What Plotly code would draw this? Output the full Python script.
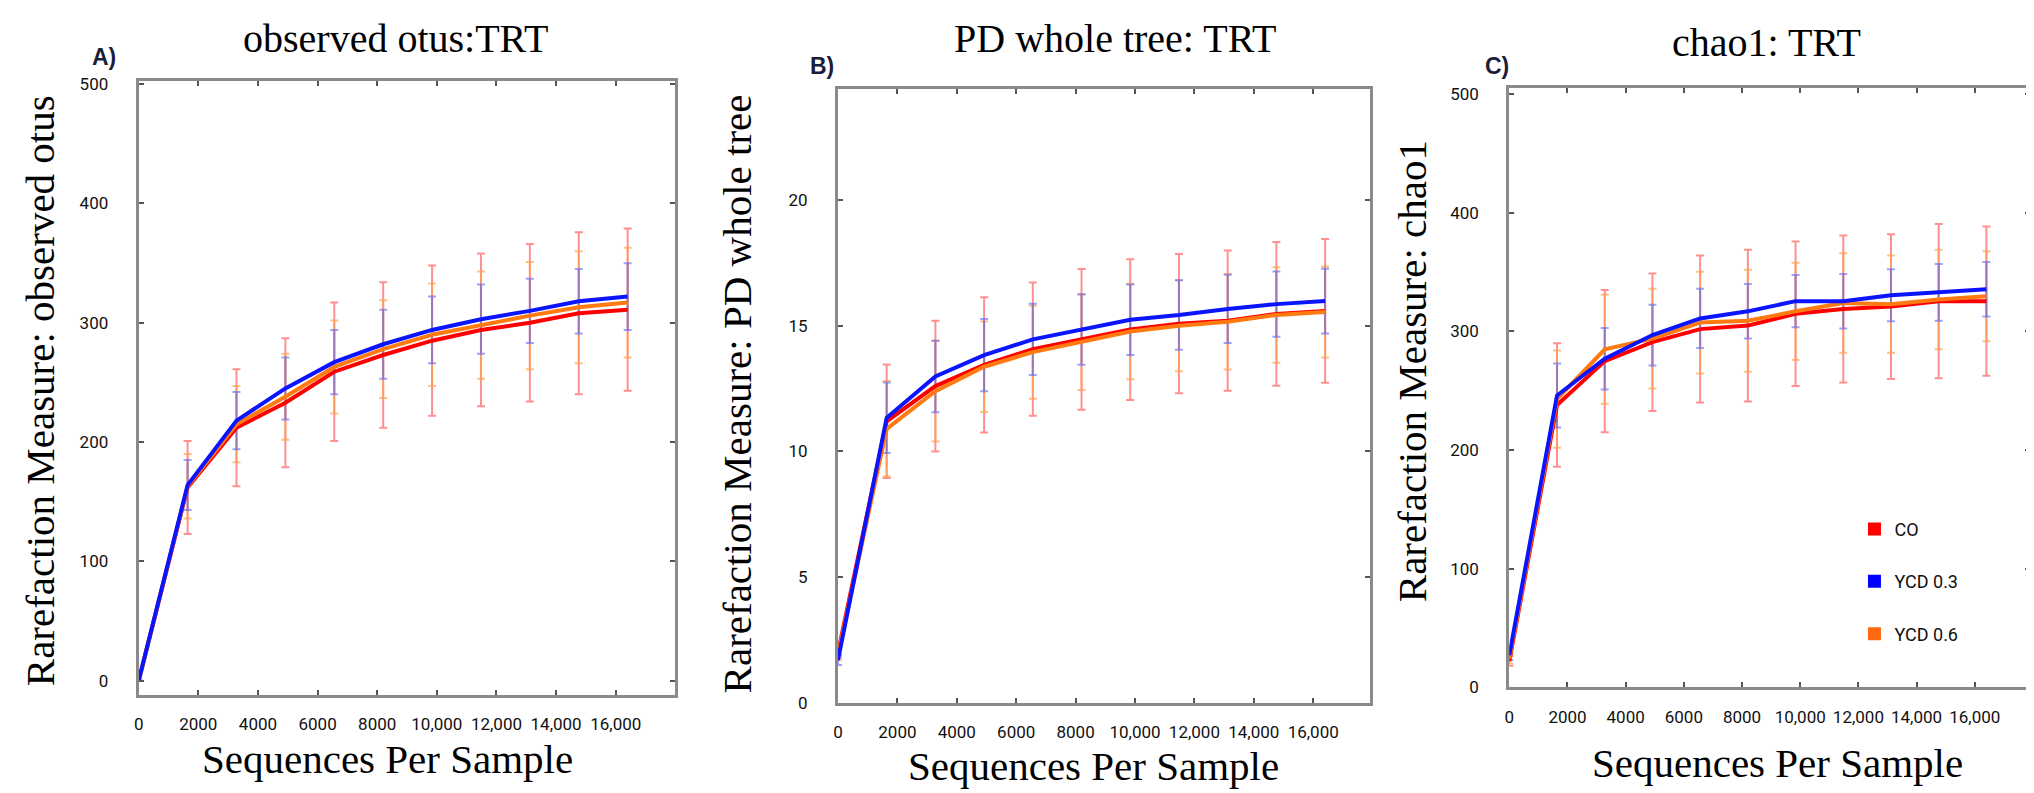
import plotly.graph_objects as go

W, H = 2034, 793

# ---------------- data ----------------
seqs = [0, 1640, 3280, 4920, 6560, 8200, 9840, 11480, 13120, 14760, 16400]
xtick_vals = [0, 2000, 4000, 6000, 8000, 10000, 12000, 14000, 16000]
xtick_text = ["0", "2000", "4000", "6000", "8000", "10,000", "12,000", "14,000", "16,000"]
groups = ["CO", "YCD 0.3", "YCD 0.6"]

# Panel A: observed otus
otus_co = [0, 162, 212, 233, 259, 273, 285, 294, 300, 308, 311]
otus_y03 = [0, 164, 218, 245, 267, 282, 294, 303, 310, 318, 322]
otus_y06 = [0, 163, 215, 238, 263, 278, 290, 298, 306, 313, 317]
otus_co_err = [0, 39, 49, 54, 58, 61, 63, 64, 66, 68, 68]
otus_y03_err = [0, 21, 24, 26, 27, 29, 28, 29, 27, 27, 28]
otus_y06_err = [0, 27, 32, 36, 39, 41, 43, 45, 45, 47, 46]

# Panel B: PD whole tree
pd_co = [2.0, 11.2, 12.6, 13.44, 14.07, 14.46, 14.85, 15.08, 15.2, 15.47, 15.59]
pd_y03 = [1.7, 11.34, 12.98, 13.83, 14.46, 14.85, 15.24, 15.43, 15.67, 15.86, 15.98]
pd_y06 = [1.9, 10.9, 12.4, 13.37, 13.95, 14.34, 14.77, 15.0, 15.16, 15.43, 15.55]
pd_co_err = [0.2, 2.26, 2.6, 2.69, 2.65, 2.8, 2.8, 2.77, 2.79, 2.86, 2.86]
pd_y03_err = [0.2, 1.4, 1.42, 1.44, 1.42, 1.4, 1.4, 1.38, 1.36, 1.3, 1.29]
pd_y06_err = [0.2, 1.9, 2.0, 1.8, 1.85, 1.9, 1.9, 1.81, 1.9, 1.9, 1.81]

# Panel C: chao1
chao_co = [22, 238, 275, 291, 302, 305, 315, 319, 321, 325.6, 325.6]
chao_y03 = [27, 246, 277, 297, 311, 317, 325.6, 325.6, 330.6, 333, 335.6]
chao_y06 = [24, 243, 285, 294, 307.5, 309, 317, 324, 323, 327, 329.7]
chao_co_err = [4, 52, 60, 58, 62, 64, 61, 62, 61, 65, 63]
chao_y03_err = [4, 27, 26, 25.6, 25, 23, 22, 23, 22, 24, 23]
chao_y06_err = [4, 41, 46, 42, 43, 43, 41, 42, 41, 42, 38]

line_colors = {"CO": "#ff0000", "YCD 0.3": "#0a14ff", "YCD 0.6": "#ff7a10"}
err_colors = {"CO": "rgba(255,70,70,0.6)", "YCD 0.3": "rgba(70,90,255,0.55)",
              "YCD 0.6": "rgba(255,160,70,0.65)"}

SERIF = "Liberation Serif, Times New Roman, serif"
TICKF = "Roboto, Liberation Sans, sans-serif"

# pixel layout of each panel: (left, right, top, bottom)
panels = [
    dict(box=(126, 664, 68, 695), yrange=[-12, 503], yticks=[0, 100, 200, 300, 400, 500],
         xrange=[0, 18000],
         data=[(otus_co, otus_co_err), (otus_y03, otus_y03_err), (otus_y06, otus_y06_err)],
         title="observed otus:TRT", tpos=(383, 25), label="A)", lpos=(91, 44),
         ytitle="Rarefaction Measure: observed otus", ytpos=(27, 384),
         xtpos=(375, 760)),
    dict(box=(827, 1360, 77, 703), yrange=[0, 24.4], yticks=[0, 5, 10, 15, 20],
         xrange=[0, 17900],
         data=[(pd_co, pd_co_err), (pd_y03, pd_y03_err), (pd_y06, pd_y06_err)],
         title="PD whole tree: TRT", tpos=(1105, 25), label="B)", lpos=(811, 53),
         ytitle="Rarefaction Measure: PD whole tree", ytpos=(726, 388),
         xtpos=(1083, 767)),
    dict(box=(1500, 2022, 76, 687), yrange=[0, 505], yticks=[0, 100, 200, 300, 400, 500],
         xrange=[0, 17900],
         data=[(chao_co, chao_co_err), (chao_y03, chao_y03_err), (chao_y06, chao_y06_err)],
         title="chao1: TRT", tpos=(1758, 29), label="C)", lpos=(1488, 53),
         ytitle="Rarefaction Measure: chao1", ytpos=(1402, 365),
         xtpos=(1769, 764)),
]

fig = go.Figure()
annotations = []
draw_order = [0, 2, 1]  # CO, YCD 0.6, YCD 0.3 (blue on top)

for i, p in enumerate(panels):
    n = "" if i == 0 else str(i + 1)
    xa, ya = "x" + n, "y" + n
    l, r, t, b = p["box"]
    fig.layout["xaxis" + n] = dict(
        domain=[l / W, r / W], range=p["xrange"], anchor=ya,
        tickvals=xtick_vals, ticktext=xtick_text, ticks="inside", ticklen=5,
        tickcolor="#555", tickwidth=2, showline=True, linecolor="#8a8a8a",
        linewidth=3, mirror="ticks", showgrid=False, zeroline=False,
        tickfont=dict(family=TICKF, size=17, color="#111"), tickangle=0,
        ticklabelstandoff=12,
    )
    fig.layout["yaxis" + n] = dict(
        domain=[1 - b / H, 1 - t / H], range=p["yrange"], anchor=xa,
        tickvals=p["yticks"], ticks="inside", ticklen=5, tickcolor="#555",
        tickwidth=2, showline=True, linecolor="#8a8a8a", linewidth=3,
        mirror="ticks", showgrid=False, zeroline=False,
        tickfont=dict(family=TICKF, size=17, color="#111"),
        ticklabelstandoff=24,
    )
    # error bars first
    for k in draw_order:
        g = groups[k]
        vals, errs = p["data"][k]
        fig.add_trace(go.Scatter(
            x=seqs, y=vals, xaxis=xa, yaxis=ya, mode="markers",
            marker=dict(size=1, opacity=0), showlegend=False, hoverinfo="skip",
            error_y=dict(type="data", array=errs, visible=True,
                         color=err_colors[g], thickness=2, width=4),
        ))
    for k in draw_order:
        g = groups[k]
        vals, errs = p["data"][k]
        fig.add_trace(go.Scatter(
            x=seqs, y=vals, xaxis=xa, yaxis=ya, mode="lines", name=g,
            line=dict(color=line_colors[g], width=4), showlegend=False,
        ))
    annotations.append(dict(text=p["title"], x=p["tpos"][0] / W, y=1 - p["tpos"][1] / H,
                            xref="paper", yref="paper", showarrow=False,
                            xanchor="center", yanchor="middle",
                            font=dict(family=SERIF, size=40, color="#000")))
    annotations.append(dict(text="<b>" + p["label"] + "</b>", x=p["lpos"][0] / W,
                            y=1 - p["lpos"][1] / H, xref="paper", yref="paper",
                            showarrow=False, xanchor="center", yanchor="middle",
                            font=dict(family="Liberation Sans, Arial, sans-serif",
                                      size=23, color="#1b1d3a")))
    annotations.append(dict(text=p["ytitle"], x=p["ytpos"][0] / W, y=1 - p["ytpos"][1] / H,
                            xref="paper", yref="paper", showarrow=False, textangle=-90,
                            xanchor="center", yanchor="middle",
                            font=dict(family=SERIF, size=41, color="#000")))
    annotations.append(dict(text="Sequences Per Sample", x=p["xtpos"][0] / W,
                            y=1 - p["xtpos"][1] / H, xref="paper", yref="paper",
                            showarrow=False, xanchor="center", yanchor="middle",
                            font=dict(family=SERIF, size=41, color="#000")))

# legend entries (panel C)
legend_colors = {"CO": "#ff0000", "YCD 0.3": "#0000ff", "YCD 0.6": "#ff6a10"}
for j, g in enumerate(groups):
    fig.add_trace(go.Scatter(
        x=[None], y=[None], xaxis="x3", yaxis="y3", mode="markers", name=g,
        legendgroup=g, marker=dict(symbol="square", size=13, color=legend_colors[g]),
        showlegend=True,
    ))

fig.update_layout(
    width=W, height=H, margin=dict(l=0, r=0, t=0, b=0),
    paper_bgcolor="white", plot_bgcolor="white",
    annotations=annotations,
    legend=dict(x=1846 / W, y=1 - 507 / H, xanchor="left", yanchor="top",
                bgcolor="rgba(0,0,0,0)", traceorder="grouped", tracegroupgap=26,
                itemwidth=30, font=dict(family=TICKF, size=18, color="#111")),
)

fig.write_html("out.html")
